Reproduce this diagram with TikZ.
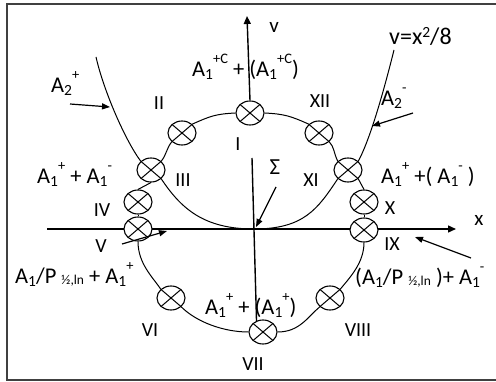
\documentclass[tikz,border=0pt]{standalone}
\usepackage{fontspec}
\setmainfont{Carlito}
\usetikzlibrary{shapes.geometric,arrows.meta}
\newcommand\spx[1]{\raisebox{0.6em}{\fontsize{14.5}{14.5}\selectfont #1}}
\newcommand\sbx[1]{\raisebox{-0.12em}{\fontsize{15.5}{15.5}\selectfont #1}}
\newcommand\spl[1]{\raisebox{0.3em}{\fontsize{15.5}{15.5}\selectfont #1}}
\newcommand\tny[1]{\raisebox{-0.03em}{\fontsize{13.5}{13.5}\selectfont #1}}
\begin{document}
\begin{tikzpicture}[x=1pt,y=-1pt,
  lbl/.style={font=\fontsize{20}{24}\selectfont, inner sep=0pt},
  alab/.style={font=\fontsize{22.5}{26}\selectfont, inner sep=0pt, anchor=base west},
  xc/.style={ellipse, draw, line width=1.1pt, fill=white, minimum width=28pt,
    minimum height=24pt, inner sep=0pt,
    path picture={\draw[line width=1pt] (path picture bounding box.south west) -- (path picture bounding box.north east)
      (path picture bounding box.north west) -- (path picture bounding box.south east);}},
  wire/.style={line width=1pt},
  axisline/.style={line width=1.4pt, -{Triangle[length=8pt,width=7pt]}},
  ptr/.style={line width=1.2pt, -{Triangle[length=8pt,width=6pt]}}
]
\useasboundingbox (0,0) rectangle (496,382);
\clip (0,0) rectangle (496,382);
\fill[white] (0,0) rectangle (496,382);
\draw[line width=1.6pt, black!75] (7,4) rectangle (505,380);

% coordinates
\coordinate (xl) at (47,229);
\coordinate (xr) at (456,229);
\coordinate (vt) at (247,16);
\coordinate (vm) at (252,158);
\coordinate (O) at (254,229);
\coordinate (lt) at (96,57);
\coordinate (rt) at (394,50);

% x axis
\draw[axisline] (xl) -- (xr);

% circles
\node[xc] (cI)    at (250,113) {};
\node[xc] (cII)   at (182,133) {};
\node[xc] (cIII)  at (151,170) {};
\node[xc] (cIV)   at (138,202) {};
\node[xc] (cV)    at (138,229) {};
\node[xc] (cVI)   at (171,298) {};
\node[xc] (cVII)  at (263,332) {};
\node[xc] (cVIII) at (330,298) {};
\node[xc] (cIX)   at (364,230) {};
\node[xc] (cX)    at (364,202) {};
\node[xc] (cXI)   at (348,170) {};
\node[xc] (cXII)  at (319,133) {};

% v axis
\draw[axisline] (cI.north) -- (vt);
\draw[line width=1.4pt] (vm) -- (cVII.120);

% ring connectors
\draw[wire] (cI.west) .. controls +(-20,1) and +(18,-8) .. (cII.north east);
\draw[wire] (cII.south west) .. controls +(-5,6) and +(5,-6) .. (cIII.north east);
\draw[wire] (cIII.south) -- (cIV.north);
\draw[wire] (cIV.south) -- (cV.north);
\draw[wire] (cV.south) .. controls +(0,22) and +(-8,-12) .. (cVI.north west);
\draw[wire] (cVI.south east) .. controls +(15,15) and +(-25,0) .. (cVII.west);
\draw[wire] (cVII.east) .. controls +(22,0) and +(-12,10) .. (cVIII.south west);
\draw[wire] (cVIII.north east) .. controls +(10,-12) and +(0,20) .. (cIX.south);
\draw[wire] (cIX.north) -- (cX.south);
\draw[wire] (cX.north) -- (cXI.south east);
\draw[wire] (cXI.north west) .. controls +(-4,-8) and +(5,5) .. (cXII.south east);
\draw[wire] (cXII.north west) .. controls +(-18,-8) and +(20,1) .. (cI.east);

% parabola
\draw[wire] (lt) .. controls +(8,35) and +(-15,-20) .. (cIII.north west);
\draw[wire] (rt) .. controls +(-10,40) and +(12,-22) .. (cXI.north east);
\draw[wire] (cIII.south east) .. controls +(20,30) and +(-50,0) .. (O);
\draw[wire] (cXI.south west) .. controls +(-20,30) and +(50,0) .. (O);

% pointer arrows
\coordinate (p1s) at (70,104);  \coordinate (p1e) at (110,107);
\coordinate (p2s) at (413,113); \coordinate (p2e) at (372,126);
\coordinate (p3s) at (276,187); \coordinate (p3e) at (256,227);
\coordinate (p4s) at (122,244); \coordinate (p4e) at (167,231);
\coordinate (p5s) at (471,258); \coordinate (p5e) at (415,237);
\draw[ptr] (p1s) -- (p1e);
\draw[ptr] (p2s) -- (p2e);
\draw[ptr] (p3s) -- (p3e);
\draw[ptr] (p4s) -- (p4e);
\draw[ptr] (p5s) -- (p5e);

% labels
\node[alab] (tTop) at (192,77) {A\sbx{1}\spx{+C} + (A\sbx{1}\spx{+C})};
\node[lbl, font=\fontsize{21}{24}\selectfont, anchor=base] (tv) at (274,33) {v};
\node[alab, font=\fontsize{24}{28}\selectfont] (tpar) at (389,45) {v=x\spl{2}/8};
\node[alab] (tA2p) at (51,93) {A\sbx{2}\spx{+}};
\node[alab] (tA2m) at (381,106) {A\sbx{2}\spx{-}};
\node[lbl, anchor=base] (lII) at (159,110) {II};
\node[lbl, anchor=base] (lXII) at (320,108) {XII};
\node[lbl, anchor=base] (lI) at (238,151) {I};
\node[lbl, font=\fontsize{23}{26}\selectfont, anchor=base] (lSig) at (275,175) {Σ};
\node[lbl, anchor=base] (lIII) at (183,187) {III};
\node[lbl, anchor=base] (lXI) at (311,187) {XI};
\node[alab] (tL1) at (37,184) {A\sbx{1}\spx{+} + A\sbx{1}\spx{-}};
\node[alab] (tR1) at (381,184) {A\sbx{1}\spx{+} +( A\sbx{1}\spx{-} )};
\node[lbl, anchor=base] (lIV) at (102,217) {IV};
\node[lbl, anchor=base] (lV) at (101,253) {V};
\node[lbl, anchor=base] (lX) at (390,215) {X};
\node[lbl, anchor=base] (lIX) at (392,251) {IX};
\node[lbl, font=\fontsize{21}{24}\selectfont, anchor=base] (lx) at (479,226) {x};
\node[alab] (tL2) at (15,284) {A\sbx{1}/P \tny{½,ln} + A\sbx{1}\spx{+}};
\node[alab] (tR2) at (355,285) {(A\sbx{1}/P \tny{½,ln} )+ A\sbx{1}\spx{-}};
\node[alab] (tBot) at (205,315) {A\sbx{1}\spx{+} + (A\sbx{1}\spx{+})};
\node[lbl, anchor=base] (lVI) at (150,337) {VI};
\node[lbl, anchor=base] (lVII) at (253,371) {VII};
\node[lbl, anchor=base] (lVIII) at (358,337) {VIII};
\end{tikzpicture}
\end{document}
